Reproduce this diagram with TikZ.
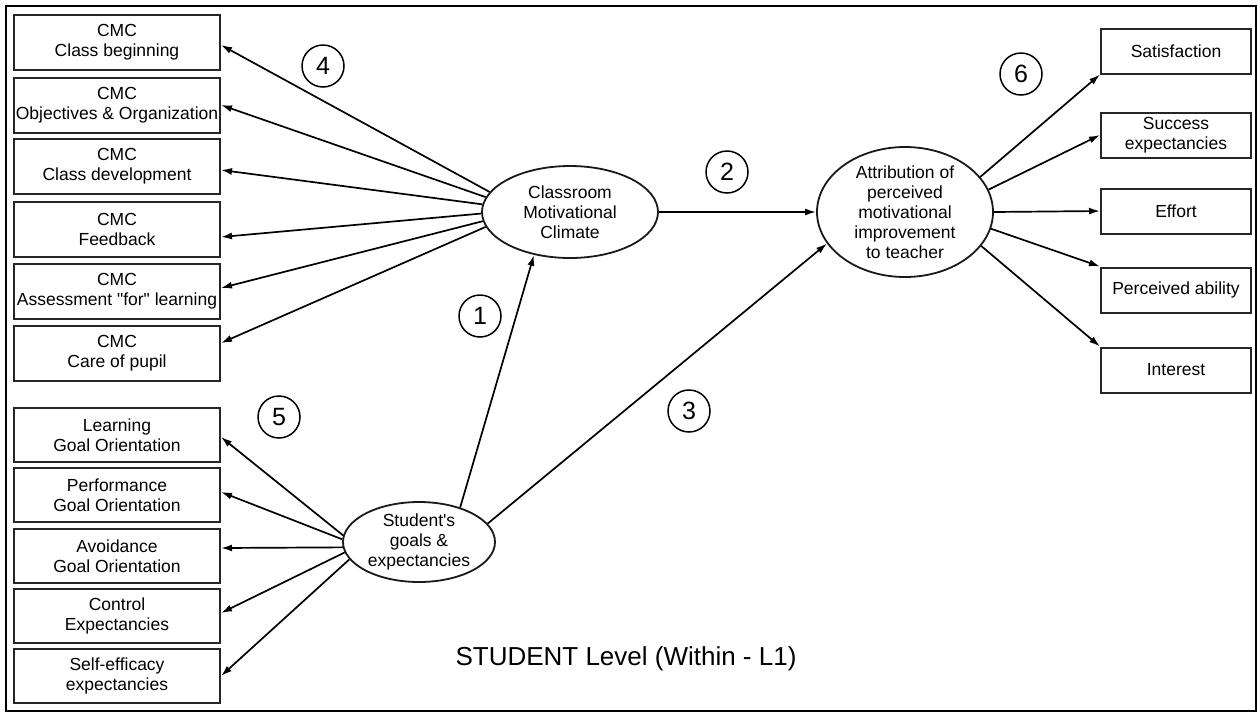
\documentclass[tikz,border=0pt]{standalone}
\usepackage{fontspec}
\setmainfont{Liberation Sans}
\usetikzlibrary{arrows.meta,shapes.geometric}

\begin{document}
\begin{tikzpicture}[x=1pt,y=-1pt,
        box/.style={draw=black!85,line width=2pt,rectangle,inner sep=0pt,align=center,font=\fontsize{17.5}{20}\selectfont},
        lbox/.style={box,minimum width=206pt,minimum height=55pt},
        gbox/.style={box,minimum width=206pt,minimum height=54pt},
        rbox/.style={box,minimum width=150pt,minimum height=45pt},
        latent/.style={draw=black!90,line width=1.8pt,ellipse,inner sep=0pt,align=center,font=\fontsize{17.5}{20}\selectfont},
        num/.style={draw,circle,line width=1.5pt,minimum size=42pt,inner sep=0pt,font=\fontsize{25}{25}\selectfont},
        arr/.style={-{Latex[length=11pt,width=7pt]},line width=1.7pt}]
        \useasboundingbox (0,0) rectangle (1260,713);
        \draw[line width=2.5pt] (6,6) rectangle (1256,711);
        \node[lbox](c1) at (117,42) {CMC\\Class beginning};
        \node[lbox](c2) at (117,105) {CMC\\Objectives \& Organization};
        \node[lbox](c3) at (117,166) {CMC\\Class development};
        \node[lbox](c4) at (117,229) {CMC\\Feedback};
        \node[lbox](c5) at (117,291) {CMC\\Assessment \textquotedbl for\textquotedbl{} learning};
        \node[lbox](c6) at (117,353) {CMC\\Care of pupil};
        \node[gbox](g1) at (117,435) {Learning\\Goal Orientation};
        \node[gbox](g2) at (117,495) {Performance\\Goal Orientation};
        \node[gbox](g3) at (117,556) {Avoidance\\Goal Orientation};
        \node[gbox](g4) at (117,616) {Control\\Expectancies};
        \node[gbox](g5) at (117,676) {Self-efficacy\\expectancies};
        \node[rbox](o1) at (1176,51) {Satisfaction};
        \node[rbox](o2) at (1176,135) {Success\\expectancies};
        \node[rbox](o3) at (1176,211) {Effort};
        \node[rbox](o4) at (1176,290) {Perceived ability};
        \node[rbox](o5) at (1176,370) {Interest};
        \node[latent,minimum width=176pt,minimum height=92pt](cmc) at (570,212) {Classroom\\Motivational\\Climate};
        \node[latent,minimum width=176pt,minimum height=130pt,inner ysep=-6pt](att) at (905,212) {Attribution of\\perceived\\motivational\\improvement\\to teacher};
        \node[latent,minimum width=152pt,minimum height=80pt,inner ysep=-4pt](stu) at (419,542) {Student\textquotesingle s\\goals \&\\expectancies};
        \node[num](n1) at (480,316) {1};
        \node[num](n2) at (727,172) {2};
        \node[num](n3) at (689,411) {3};
        \node[num](n4) at (323,66) {4};
        \node[num](n5) at (279,417) {5};
        \node[num](n6) at (1021,74) {6};
        \node[font=\fontsize{26}{26}\selectfont](lvl) at (626,659) {STUDENT Level (Within - L1)};
        \draw[arr](cmc.166)--([yshift=-3pt]c1.east);
        \draw[arr](cmc.170)--(c2.east);
        \draw[arr](cmc.175)--([yshift=-4pt]c3.east);
        \draw[arr](cmc.181)--([yshift=-8pt]c4.east);
        \draw[arr](cmc.186)--([yshift=3pt]c5.east);
        \draw[arr](cmc.190)--([yshift=10pt]c6.east);
        \draw[arr](stu.175)--([yshift=-2pt]g1.east);
        \draw[arr](stu.178)--([yshift=3pt]g2.east);
        \draw[arr](stu.184)--([yshift=8pt]g3.east);
        \draw[arr](stu.188)--([yshift=3pt]g4.east);
        \draw[arr](stu.194)--(g5.east);
        \draw[arr](att.25)--(o1.south west);
        \draw[arr](att.15)--(o2.west);
        \draw[arr](att.0)--(o3.west);
        \draw[arr](att.-11)--(o4.north west);
        \draw[arr](att.-24)--(o5.north west);
        \draw[arr](cmc.east)--(att.west);
        \draw[arr](stu.40)--(cmc.230);
        \draw[arr](stu.15)--(att.202);
\end{tikzpicture}
\end{document}
